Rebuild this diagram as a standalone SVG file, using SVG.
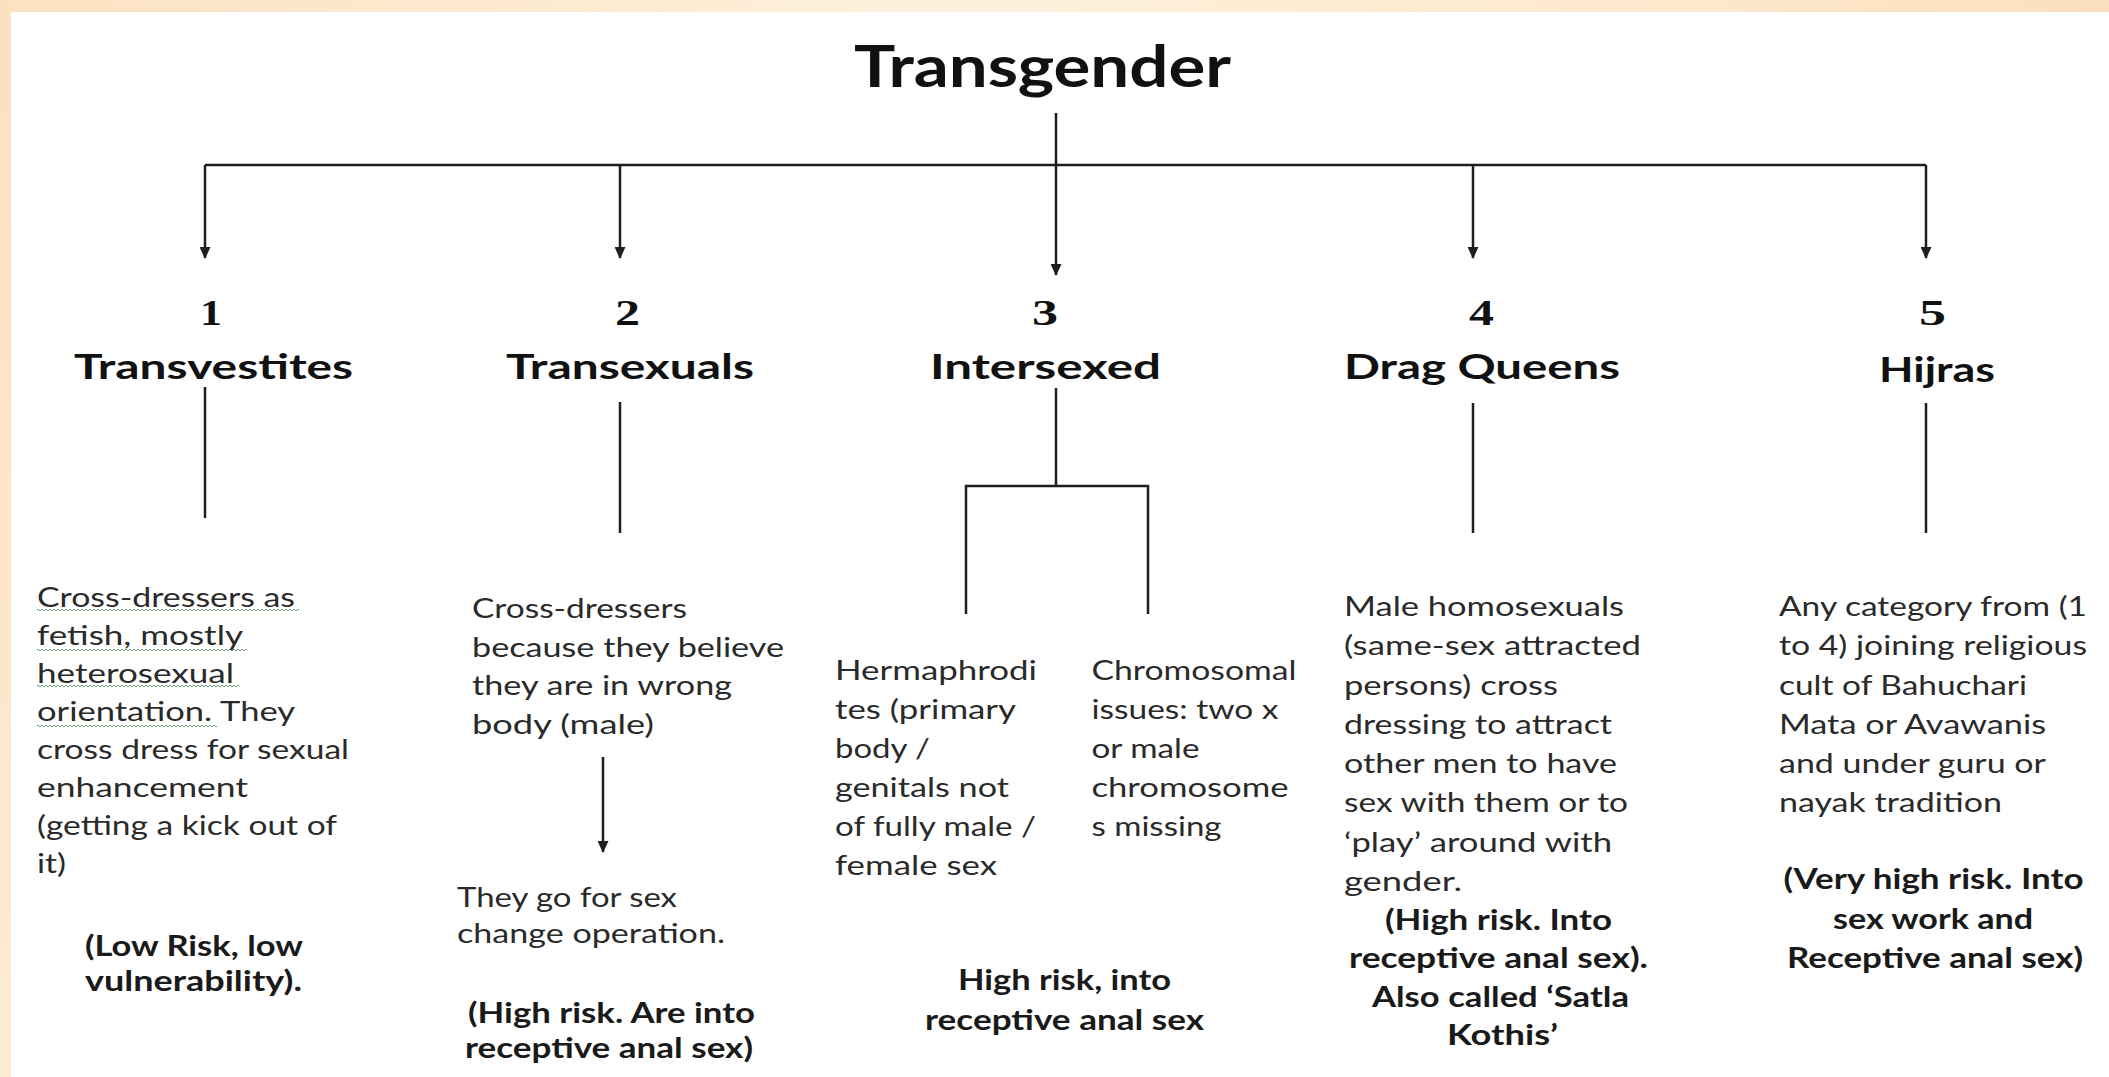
<svg xmlns="http://www.w3.org/2000/svg" width="2109" height="1077" viewBox="0 0 2109 1077">
<defs>
<style>
.b{font-family:Lato,"Open Sans","Liberation Sans",sans-serif;font-size:27px;fill:#2a2a2a}
.bb{font-family:Lato,"Open Sans","Liberation Sans",sans-serif;font-weight:700;font-size:28px;fill:#1a1a1a}
.h{font-family:Lato,"Open Sans","Liberation Sans",sans-serif;font-weight:700;font-size:34px;fill:#111}
.t{font-family:Lato,"Open Sans","Liberation Sans",sans-serif;font-weight:700;font-size:57px;fill:#111}
.n{font-family:"Liberation Serif","Times New Roman",serif;font-weight:700;font-size:36px;fill:#111}
.c{stroke:#1e1e1e;stroke-width:2.5;fill:none}
.sq{fill:url(#squiggle)}
</style>
<linearGradient id="topband" x1="0" y1="0" x2="1" y2="0">
<stop offset="0" stop-color="#FCE2C2"/>
<stop offset="0.45" stop-color="#FDF0DB"/>
<stop offset="0.8" stop-color="#FDE8CC"/>
<stop offset="1" stop-color="#FCDFBC"/>
</linearGradient>
<linearGradient id="leftband" x1="0" y1="0" x2="0" y2="1">
<stop offset="0" stop-color="#FCE0BF"/>
<stop offset="1" stop-color="#FDEBD3"/>
</linearGradient>
<pattern id="squiggle" width="4" height="4" patternUnits="userSpaceOnUse">
<path d="M0,3 L2,1 L4,3" stroke="#5f8f66" stroke-width="0.9" fill="none"/>
</pattern>
<marker id="arr" viewBox="0 0 12 11" markerWidth="12" markerHeight="11" refX="11" refY="5.5" orient="auto" markerUnits="userSpaceOnUse">
<path d="M0,0 L12,5.5 L0,11 Z" fill="#1e1e1e"/>
</marker>
</defs>

<rect x="0" y="0" width="2109" height="1077" fill="#ffffff"/>
<rect x="0" y="0" width="2109" height="12" fill="url(#topband)"/>
<rect x="0" y="0" width="11" height="1077" fill="url(#leftband)"/>

<g id="connectors">
<line class="c" x1="1056" y1="113" x2="1056" y2="275" marker-end="url(#arr)"/>
<path class="c" d="M205,165 H1926"/>
<line class="c" x1="205" y1="165" x2="205" y2="258" marker-end="url(#arr)"/>
<line class="c" x1="620" y1="165" x2="620" y2="258" marker-end="url(#arr)"/>
<line class="c" x1="1473" y1="165" x2="1473" y2="258" marker-end="url(#arr)"/>
<line class="c" x1="1926" y1="165" x2="1926" y2="258" marker-end="url(#arr)"/>
<line class="c" x1="205" y1="387" x2="205" y2="518"/>
<line class="c" x1="620" y1="402" x2="620" y2="533"/>
<line class="c" x1="1056" y1="388" x2="1056" y2="486"/>
<line class="c" x1="1473" y1="403" x2="1473" y2="533"/>
<line class="c" x1="1926" y1="403" x2="1926" y2="533"/>
<path class="c" d="M966,614 V486 H1148 V614"/>
<line class="c" x1="603" y1="757" x2="603" y2="852" marker-end="url(#arr)"/>
</g>

<g id="node-transgender">
<text class="t" x="854" y="87" textLength="377" lengthAdjust="spacingAndGlyphs">Transgender</text>
</g>

<g id="node-transvestites">
<text class="n" x="200" y="325" textLength="22" lengthAdjust="spacingAndGlyphs">1</text>
<text class="h" x="74" y="379" textLength="279" lengthAdjust="spacingAndGlyphs">Transvestites</text>
</g>
<g id="desc-transvestites">
<rect class="sq" x="37" y="609" width="262" height="4"/>
<rect class="sq" x="37" y="647" width="209" height="4"/>
<rect class="sq" x="37" y="685" width="202" height="4"/>
<rect class="sq" x="37" y="723" width="180" height="4"/>
<text class="b" x="37" y="607" textLength="258" lengthAdjust="spacingAndGlyphs">Cross-dressers as</text>
<text class="b" x="37" y="645" textLength="206" lengthAdjust="spacingAndGlyphs">fetish, mostly</text>
<text class="b" x="37" y="683" textLength="197" lengthAdjust="spacingAndGlyphs">heterosexual</text>
<text class="b" x="37" y="721" textLength="258" lengthAdjust="spacingAndGlyphs">orientation. They</text>
<text class="b" x="37" y="759" textLength="312" lengthAdjust="spacingAndGlyphs">cross dress for sexual</text>
<text class="b" x="37" y="797" textLength="211" lengthAdjust="spacingAndGlyphs">enhancement</text>
<text class="b" x="37" y="835" textLength="300" lengthAdjust="spacingAndGlyphs">(getting a kick out of</text>
<text class="b" x="37" y="873" textLength="29" lengthAdjust="spacingAndGlyphs">it)</text>
<text class="bb" x="85" y="956" textLength="218" lengthAdjust="spacingAndGlyphs">(Low Risk, low</text>
<text class="bb" x="85" y="991" textLength="217" lengthAdjust="spacingAndGlyphs">vulnerability).</text>
</g>

<g id="node-transexuals">
<text class="n" x="615" y="325" textLength="25" lengthAdjust="spacingAndGlyphs">2</text>
<text class="h" x="506" y="379" textLength="248" lengthAdjust="spacingAndGlyphs">Transexuals</text>
</g>
<g id="desc-transexuals">
<text class="b" x="472" y="618" textLength="215" lengthAdjust="spacingAndGlyphs">Cross-dressers</text>
<text class="b" x="472" y="656.5" textLength="312" lengthAdjust="spacingAndGlyphs">because they believe</text>
<text class="b" x="472" y="695" textLength="260" lengthAdjust="spacingAndGlyphs">they are in wrong</text>
<text class="b" x="472" y="733.5" textLength="182" lengthAdjust="spacingAndGlyphs">body (male)</text>
</g>
<g id="desc-transexuals-operation">
<text class="b" x="457" y="907" textLength="220" lengthAdjust="spacingAndGlyphs">They go for sex</text>
<text class="b" x="457" y="943" textLength="268" lengthAdjust="spacingAndGlyphs">change operation.</text>
<text class="bb" x="468" y="1023" textLength="287" lengthAdjust="spacingAndGlyphs">(High risk. Are into</text>
<text class="bb" x="465" y="1058" textLength="288" lengthAdjust="spacingAndGlyphs">receptive anal sex)</text>
</g>

<g id="node-intersexed">
<text class="n" x="1032" y="325" textLength="26" lengthAdjust="spacingAndGlyphs">3</text>
<text class="h" x="930" y="379" textLength="231" lengthAdjust="spacingAndGlyphs">Intersexed</text>
</g>
<g id="desc-hermaphrodites">
<text class="b" x="835" y="680" textLength="202" lengthAdjust="spacingAndGlyphs">Hermaphrodi</text>
<text class="b" x="835" y="719" textLength="181" lengthAdjust="spacingAndGlyphs">tes (primary</text>
<text class="b" x="835" y="758" textLength="95" lengthAdjust="spacingAndGlyphs">body /</text>
<text class="b" x="835" y="797" textLength="174" lengthAdjust="spacingAndGlyphs">genitals not</text>
<text class="b" x="835" y="836" textLength="201" lengthAdjust="spacingAndGlyphs">of fully male /</text>
<text class="b" x="835" y="875" textLength="162" lengthAdjust="spacingAndGlyphs">female sex</text>
</g>
<g id="desc-chromosomal">
<text class="b" x="1091.5" y="680" textLength="205" lengthAdjust="spacingAndGlyphs">Chromosomal</text>
<text class="b" x="1091.5" y="719" textLength="187" lengthAdjust="spacingAndGlyphs">issues: two x</text>
<text class="b" x="1091.5" y="758" textLength="108" lengthAdjust="spacingAndGlyphs">or male</text>
<text class="b" x="1091.5" y="797" textLength="197" lengthAdjust="spacingAndGlyphs">chromosome</text>
<text class="b" x="1091.5" y="836" textLength="130" lengthAdjust="spacingAndGlyphs">s missing</text>
</g>
<g id="desc-intersexed-risk">
<text class="bb" x="958" y="990" textLength="213" lengthAdjust="spacingAndGlyphs">High risk, into</text>
<text class="bb" x="925" y="1030" textLength="279" lengthAdjust="spacingAndGlyphs">receptive anal sex</text>
</g>

<g id="node-dragqueens">
<text class="n" x="1469" y="325" textLength="25" lengthAdjust="spacingAndGlyphs">4</text>
<text class="h" x="1344" y="379" textLength="276" lengthAdjust="spacingAndGlyphs">Drag Queens</text>
</g>
<g id="desc-dragqueens">
<text class="b" x="1344" y="616" textLength="280" lengthAdjust="spacingAndGlyphs">Male homosexuals</text>
<text class="b" x="1344" y="655" textLength="297" lengthAdjust="spacingAndGlyphs">(same-sex attracted</text>
<text class="b" x="1344" y="694.5" textLength="214" lengthAdjust="spacingAndGlyphs">persons) cross</text>
<text class="b" x="1344" y="734" textLength="268" lengthAdjust="spacingAndGlyphs">dressing to attract</text>
<text class="b" x="1344" y="773" textLength="273" lengthAdjust="spacingAndGlyphs">other men to have</text>
<text class="b" x="1344" y="812" textLength="284" lengthAdjust="spacingAndGlyphs">sex with them or to</text>
<text class="b" x="1344" y="851.5" textLength="268" lengthAdjust="spacingAndGlyphs">‘play’ around with</text>
<text class="b" x="1344" y="891" textLength="118" lengthAdjust="spacingAndGlyphs">gender.</text>
<text class="bb" x="1385" y="930" textLength="227" lengthAdjust="spacingAndGlyphs">(High risk. Into</text>
<text class="bb" x="1349" y="968" textLength="299" lengthAdjust="spacingAndGlyphs">receptive anal sex).</text>
<text class="bb" x="1372" y="1007" textLength="257" lengthAdjust="spacingAndGlyphs">Also called ‘Satla</text>
<text class="bb" x="1447" y="1045" textLength="111" lengthAdjust="spacingAndGlyphs">Kothis’</text>
</g>

<g id="node-hijras">
<text class="n" x="1919" y="325" textLength="27" lengthAdjust="spacingAndGlyphs">5</text>
<text class="h" x="1879" y="382" textLength="116" lengthAdjust="spacingAndGlyphs">Hijras</text>
</g>
<g id="desc-hijras">
<text class="b" x="1779" y="616" textLength="308" lengthAdjust="spacingAndGlyphs">Any category from (1</text>
<text class="b" x="1779" y="655" textLength="308" lengthAdjust="spacingAndGlyphs">to 4) joining religious</text>
<text class="b" x="1779" y="694.5" textLength="248" lengthAdjust="spacingAndGlyphs">cult of Bahuchari</text>
<text class="b" x="1779" y="734" textLength="267" lengthAdjust="spacingAndGlyphs">Mata or Avawanis</text>
<text class="b" x="1779" y="773" textLength="267" lengthAdjust="spacingAndGlyphs">and under guru or</text>
<text class="b" x="1779" y="812" textLength="223" lengthAdjust="spacingAndGlyphs">nayak tradition</text>
<text class="bb" x="1783.5" y="889" textLength="300" lengthAdjust="spacingAndGlyphs">(Very high risk. Into</text>
<text class="bb" x="1833" y="929" textLength="200" lengthAdjust="spacingAndGlyphs">sex work and</text>
<text class="bb" x="1787" y="968" textLength="296" lengthAdjust="spacingAndGlyphs">Receptive anal sex)</text>
</g>
</svg>
